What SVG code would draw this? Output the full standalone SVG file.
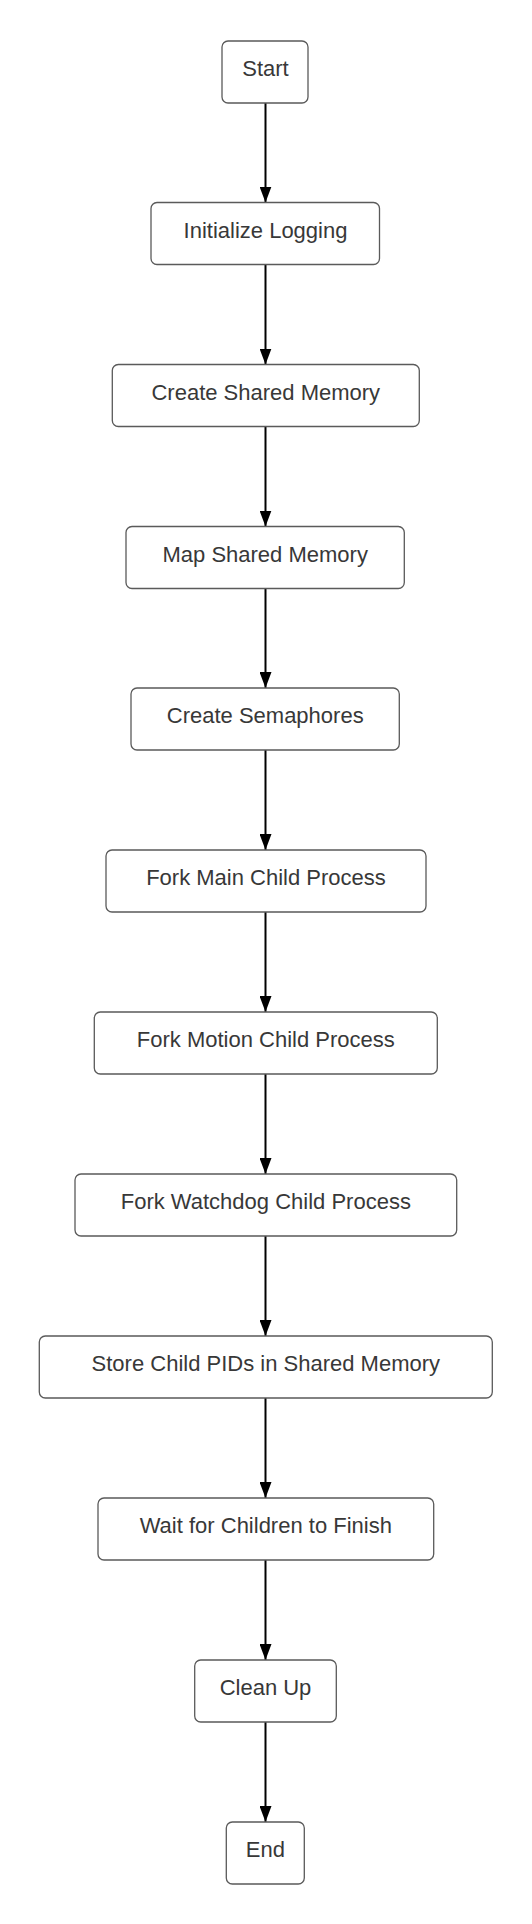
<svg xmlns="http://www.w3.org/2000/svg" width="532" height="1924" viewBox="0 0 532 1924">
<defs>
<style>
.n rect{fill:#fff;stroke:#5a5a5a;stroke-width:1.3}
.n text{font-family:"Liberation Sans",Arial,sans-serif;font-size:22px;fill:#383838;text-anchor:middle}
.c line{stroke:#000;stroke-width:2;marker-end:url(#ah)}
</style>
<marker id="ah" markerUnits="userSpaceOnUse" markerWidth="16" markerHeight="12" refX="16" refY="6" orient="auto">
<path d="M0,0 L16,6 L0,12 Z" fill="#000"/>
</marker>
</defs>
<rect width="532" height="1924" fill="#fff"/>
<g id="connectors" class="c">
<line x1="265.5" y1="103" x2="265.5" y2="202.5"/>
<line x1="265.5" y1="264.5" x2="265.5" y2="364.5"/>
<line x1="265.5" y1="426.5" x2="265.5" y2="526.5"/>
<line x1="265.5" y1="588.5" x2="265.5" y2="688"/>
<line x1="265.5" y1="750" x2="265.5" y2="850"/>
<line x1="265.5" y1="912" x2="265.5" y2="1012"/>
<line x1="265.5" y1="1074" x2="265.5" y2="1174"/>
<line x1="265.5" y1="1236" x2="265.5" y2="1336"/>
<line x1="265.5" y1="1398" x2="265.5" y2="1498"/>
<line x1="265.5" y1="1560" x2="265.5" y2="1660"/>
<line x1="265.5" y1="1722" x2="265.5" y2="1822"/>
</g>
<g id="start" class="n"><rect x="222" y="41" width="86" height="62" rx="6"/><text x="265.5" y="76.3">Start</text></g>
<g id="init-logging" class="n"><rect x="151" y="202.5" width="228.5" height="62" rx="6"/><text x="265.5" y="237.8">Initialize Logging</text></g>
<g id="create-shm" class="n"><rect x="112.3" y="364.5" width="307" height="62" rx="6"/><text x="265.8" y="399.8">Create Shared Memory</text></g>
<g id="map-shm" class="n"><rect x="126" y="526.5" width="278.3" height="62" rx="6"/><text x="265.2" y="561.8">Map Shared Memory</text></g>
<g id="create-sem" class="n"><rect x="131" y="688" width="268.3" height="62" rx="6"/><text x="265.2" y="723.3">Create Semaphores</text></g>
<g id="fork-main" class="n"><rect x="106" y="850" width="320" height="62" rx="6"/><text x="266" y="885.3">Fork Main Child Process</text></g>
<g id="fork-motion" class="n"><rect x="94.3" y="1012" width="343" height="62" rx="6"/><text x="265.8" y="1047.3">Fork Motion Child Process</text></g>
<g id="fork-watchdog" class="n"><rect x="75" y="1174" width="381.7" height="62" rx="6"/><text x="265.8" y="1209.3">Fork Watchdog Child Process</text></g>
<g id="store-pids" class="n"><rect x="39.3" y="1336" width="453" height="62" rx="6"/><text x="265.8" y="1371.3">Store Child PIDs in Shared Memory</text></g>
<g id="wait-children" class="n"><rect x="98" y="1498" width="335.7" height="62" rx="6"/><text x="265.8" y="1533.3">Wait for Children to Finish</text></g>
<g id="clean-up" class="n"><rect x="194.7" y="1660" width="141.6" height="62" rx="6"/><text x="265.5" y="1695.3">Clean Up</text></g>
<g id="end" class="n"><rect x="226.3" y="1822" width="78" height="62" rx="6"/><text x="265.3" y="1857.3">End</text></g>
</svg>
